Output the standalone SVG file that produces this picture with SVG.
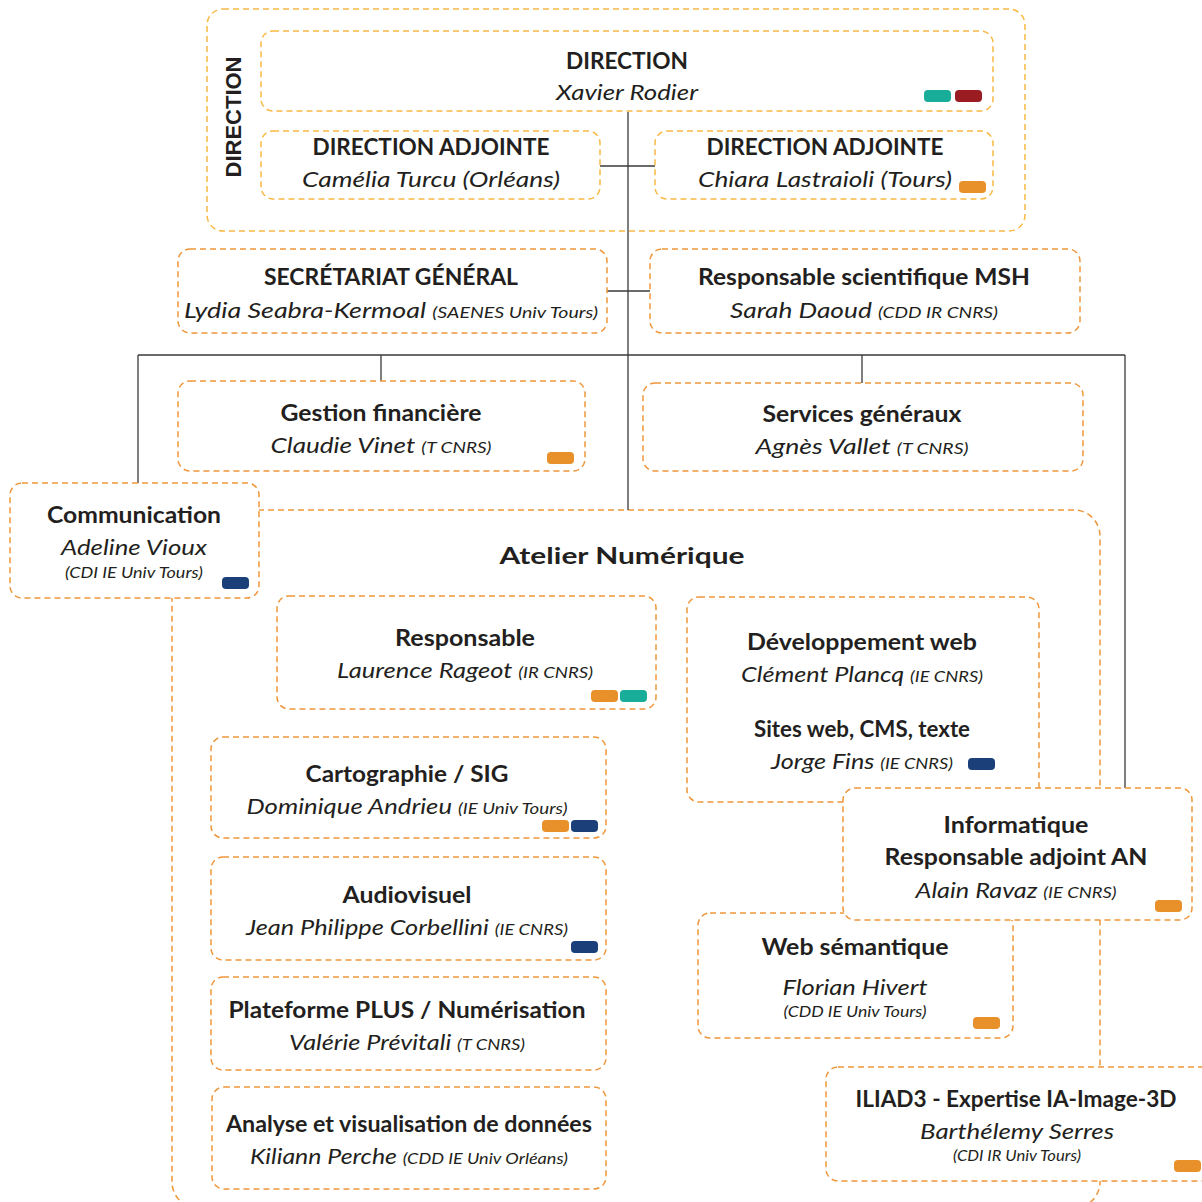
<svg xmlns="http://www.w3.org/2000/svg" width="1202" height="1202" viewBox="0 0 1202 1202">
<defs>
<style>
.bg{fill:#ffffff}
.dy{fill:none;stroke:#F9B944;stroke-width:1.5;stroke-dasharray:6 4}
.dyw{fill:#ffffff;stroke:#F9B944;stroke-width:1.5;stroke-dasharray:6 4}
.do{fill:#ffffff;stroke:#EE963A;stroke-width:1.5;stroke-dasharray:6 4}
.ln{fill:none;stroke:#3a3a3a;stroke-width:1.3}
text{font-family:"Lato","Noto Sans",sans-serif;fill:#231f20;text-anchor:middle}
.t{font-weight:700;font-size:23px}
.n{font-style:italic;font-size:22px}
.s{font-style:italic;font-size:16px}
.vt{font-family:"Liberation Sans",Arial,sans-serif;font-weight:700;font-size:22px}
.teal{fill:#17AD98}.red{fill:#9A1B20}.org{fill:#E8902A}.navy{fill:#1B4079}
</style>
</defs>
<rect class="bg" x="0" y="0" width="1202" height="1202"/>

<g id="direction-group">
<rect class="dy" x="207" y="9" width="818" height="222" rx="16"/>
<text class="vt" transform="translate(241,117) rotate(-90)">DIRECTION</text>
</g>

<g id="atelier-numerique">
<rect class="do" x="172" y="510" width="928" height="698" rx="26"/>
<text class="t" x="622" y="564" font-size="28" textLength="245" lengthAdjust="spacingAndGlyphs">Atelier Numérique</text>
</g>

<g id="connectors">
<line class="ln" x1="628" y1="112" x2="628" y2="510"/>
<line class="ln" x1="600" y1="166" x2="655" y2="166"/>
<line class="ln" x1="607" y1="291" x2="650" y2="291"/>
<line class="ln" x1="138" y1="355" x2="1125" y2="355"/>
<line class="ln" x1="138" y1="355" x2="138" y2="483"/>
<line class="ln" x1="381" y1="355" x2="381" y2="381"/>
<line class="ln" x1="862" y1="355" x2="862" y2="383"/>
<line class="ln" x1="1125" y1="355" x2="1125" y2="788"/>
</g>

<g id="direction">
<rect class="dyw" x="261" y="31" width="732" height="80" rx="12"/>
<text class="t" x="627" y="69" textLength="122" lengthAdjust="spacingAndGlyphs">DIRECTION</text>
<text class="n" x="627" y="100" textLength="142" lengthAdjust="spacingAndGlyphs">Xavier Rodier</text>
<rect class="teal" x="924" y="90" width="27" height="12" rx="4"/>
<rect class="red" x="955" y="90" width="27" height="12" rx="4"/>
</g>

<g id="direction-adjointe-orleans">
<rect class="dyw" x="261" y="131" width="339" height="68" rx="12"/>
<text class="t" x="431" y="155" textLength="237" lengthAdjust="spacingAndGlyphs">DIRECTION ADJOINTE</text>
<text class="n" x="431" y="187" textLength="258" lengthAdjust="spacingAndGlyphs">Camélia Turcu (Orléans)</text>
</g>

<g id="direction-adjointe-tours">
<rect class="dyw" x="655" y="131" width="338" height="68" rx="12"/>
<text class="t" x="825" y="155" textLength="237" lengthAdjust="spacingAndGlyphs">DIRECTION ADJOINTE</text>
<text class="n" x="825" y="187" textLength="254" lengthAdjust="spacingAndGlyphs">Chiara Lastraioli (Tours)</text>
<rect class="org" x="959" y="181" width="27" height="12" rx="4"/>
</g>

<g id="secretariat">
<rect class="do" x="178" y="249" width="429" height="84" rx="12"/>
<text class="t" x="391" y="285" textLength="254" lengthAdjust="spacingAndGlyphs">SECRÉTARIAT GÉNÉRAL</text>
<text class="n" x="391" y="318" textLength="414" lengthAdjust="spacingAndGlyphs">Lydia Seabra-Kermoal <tspan class="s" font-size="17">(SAENES Univ Tours)</tspan></text>
</g>

<g id="responsable-msh">
<rect class="do" x="650" y="249" width="430" height="84" rx="12"/>
<text class="t" x="864" y="285" textLength="332" lengthAdjust="spacingAndGlyphs">Responsable scientifique MSH</text>
<text class="n" x="864" y="318" textLength="268" lengthAdjust="spacingAndGlyphs">Sarah Daoud <tspan class="s">(CDD IR CNRS)</tspan></text>
</g>

<g id="gestion-financiere">
<rect class="do" x="178" y="381" width="407" height="90" rx="12"/>
<text class="t" x="381" y="421" textLength="201" lengthAdjust="spacingAndGlyphs">Gestion financière</text>
<text class="n" x="381" y="453" textLength="221" lengthAdjust="spacingAndGlyphs">Claudie Vinet <tspan class="s">(T CNRS)</tspan></text>
<rect class="org" x="547" y="452" width="27" height="12" rx="4"/>
</g>

<g id="services-generaux">
<rect class="do" x="643" y="383" width="440" height="88" rx="12"/>
<text class="t" x="862" y="422" textLength="199" lengthAdjust="spacingAndGlyphs">Services généraux</text>
<text class="n" x="862" y="454" textLength="213" lengthAdjust="spacingAndGlyphs">Agnès Vallet <tspan class="s">(T CNRS)</tspan></text>
</g>

<g id="communication">
<rect class="do" x="10" y="483" width="249" height="115" rx="12"/>
<text class="t" x="134" y="523" textLength="174" lengthAdjust="spacingAndGlyphs">Communication</text>
<text class="n" x="134" y="555" textLength="146" lengthAdjust="spacingAndGlyphs">Adeline Vioux</text>
<text class="s" x="134" y="578" textLength="138" lengthAdjust="spacingAndGlyphs">(CDI IE Univ Tours)</text>
<rect class="navy" x="222" y="577" width="27" height="12" rx="4"/>
</g>

<g id="responsable-an">
<rect class="do" x="277" y="596" width="379" height="113" rx="12"/>
<text class="t" x="465" y="646" textLength="140" lengthAdjust="spacingAndGlyphs">Responsable</text>
<text class="n" x="465" y="678" textLength="256" lengthAdjust="spacingAndGlyphs">Laurence Rageot <tspan class="s">(IR CNRS)</tspan></text>
<rect class="org" x="591" y="690" width="27" height="12" rx="4"/>
<rect class="teal" x="620" y="690" width="27" height="12" rx="4"/>
</g>

<g id="developpement-web">
<rect class="do" x="687" y="597" width="352" height="205" rx="12"/>
<text class="t" x="862" y="650" textLength="230" lengthAdjust="spacingAndGlyphs">Développement web</text>
<text class="n" x="862" y="682" textLength="242" lengthAdjust="spacingAndGlyphs">Clément Plancq <tspan class="s">(IE CNRS)</tspan></text>
<text class="t" x="862" y="737" textLength="216" lengthAdjust="spacingAndGlyphs">Sites web, CMS, texte</text>
<text class="n" x="862" y="769" textLength="182" lengthAdjust="spacingAndGlyphs">Jorge Fins <tspan class="s">(IE CNRS)</tspan></text>
<rect class="navy" x="968" y="758" width="27" height="12" rx="4"/>
</g>

<g id="cartographie">
<rect class="do" x="211" y="737" width="395" height="101" rx="12"/>
<text class="t" x="407" y="782" textLength="203" lengthAdjust="spacingAndGlyphs">Cartographie / SIG</text>
<text class="n" x="407" y="814" textLength="321" lengthAdjust="spacingAndGlyphs">Dominique Andrieu <tspan class="s">(IE Univ Tours)</tspan></text>
<rect class="org" x="542" y="820" width="27" height="12" rx="4"/>
<rect class="navy" x="571" y="820" width="27" height="12" rx="4"/>
</g>

<g id="audiovisuel">
<rect class="do" x="211" y="857" width="395" height="103" rx="12"/>
<text class="t" x="407" y="903" textLength="129" lengthAdjust="spacingAndGlyphs">Audiovisuel</text>
<text class="n" x="407" y="935" textLength="322" lengthAdjust="spacingAndGlyphs">Jean Philippe Corbellini <tspan class="s">(IE CNRS)</tspan></text>
<rect class="navy" x="571" y="941" width="27" height="12" rx="4"/>
</g>

<g id="plateforme-plus">
<rect class="do" x="211" y="977" width="395" height="93" rx="12"/>
<text class="t" x="407" y="1018" textLength="357" lengthAdjust="spacingAndGlyphs">Plateforme PLUS / Numérisation</text>
<text class="n" x="407" y="1050" textLength="236" lengthAdjust="spacingAndGlyphs">Valérie Prévitali <tspan class="s">(T CNRS)</tspan></text>
</g>

<g id="analyse-donnees">
<rect class="do" x="212" y="1087" width="394" height="102" rx="12"/>
<text class="t" x="409" y="1132" textLength="366" lengthAdjust="spacingAndGlyphs">Analyse et visualisation de données</text>
<text class="n" x="409" y="1164" textLength="318" lengthAdjust="spacingAndGlyphs">Kiliann Perche <tspan class="s">(CDD IE Univ Orléans)</tspan></text>
</g>

<g id="web-semantique">
<rect class="do" x="698" y="913" width="315" height="125" rx="12"/>
<text class="t" x="855" y="955" textLength="187" lengthAdjust="spacingAndGlyphs">Web sémantique</text>
<text class="n" x="855" y="995" textLength="145" lengthAdjust="spacingAndGlyphs">Florian Hivert</text>
<text class="s" x="855" y="1017" textLength="143" lengthAdjust="spacingAndGlyphs">(CDD IE Univ Tours)</text>
<rect class="org" x="973" y="1017" width="27" height="12" rx="4"/>
</g>

<g id="informatique">
<rect class="do" x="843" y="788" width="349" height="132" rx="12"/>
<text class="t" x="1016" y="833" textLength="145" lengthAdjust="spacingAndGlyphs">Informatique</text>
<text class="t" x="1016" y="865" textLength="263" lengthAdjust="spacingAndGlyphs">Responsable adjoint AN</text>
<text class="n" x="1016" y="898" textLength="201" lengthAdjust="spacingAndGlyphs">Alain Ravaz <tspan class="s">(IE CNRS)</tspan></text>
<rect class="org" x="1155" y="900" width="27" height="12" rx="4"/>
</g>

<g id="iliad3">
<rect class="do" x="826" y="1067" width="400" height="114" rx="12"/>
<text class="t" x="1016" y="1107" textLength="321" lengthAdjust="spacingAndGlyphs">ILIAD3 - Expertise IA-Image-3D</text>
<text class="n" x="1017" y="1139" textLength="194" lengthAdjust="spacingAndGlyphs">Barthélemy Serres</text>
<text class="s" x="1017" y="1161" textLength="128" lengthAdjust="spacingAndGlyphs">(CDI IR Univ Tours)</text>
<rect class="org" x="1174" y="1160" width="27" height="12" rx="4"/>
</g>
</svg>
